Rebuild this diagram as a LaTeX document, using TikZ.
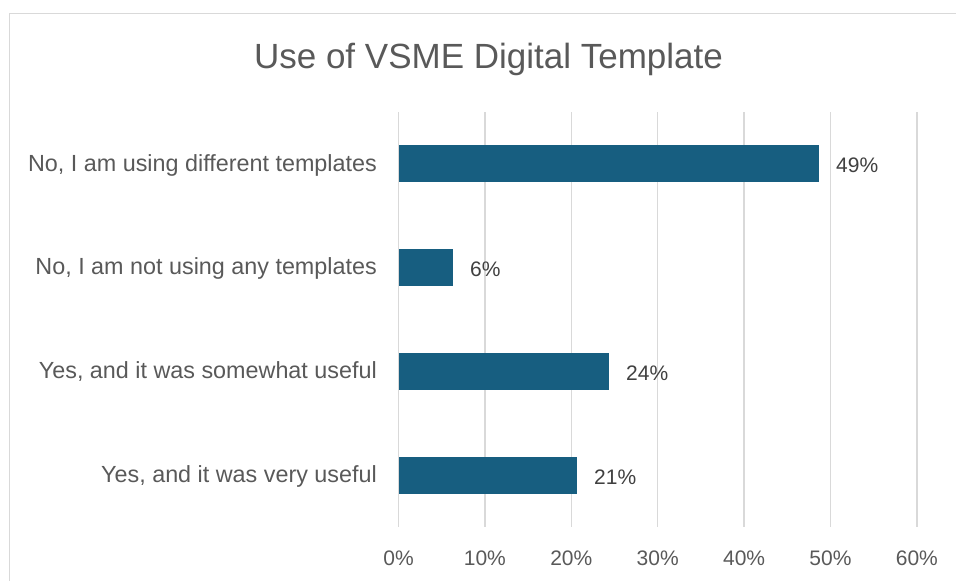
\documentclass[tikz,border=0pt]{standalone}
\usepackage{fontspec}
\setmainfont{Liberation Sans}
\definecolor{barblue}{RGB}{23,94,128}
\definecolor{gridgray}{RGB}{217,217,217}
\definecolor{textgray}{RGB}{89,89,89}
\definecolor{labelgray}{RGB}{64,64,64}
\begin{document}
\begin{tikzpicture}[x=1pt,y=-1pt,
  gridline/.style={draw=gridgray,line width=1.3pt},
  bar/.style={fill=barblue,draw=none},
  catlabel/.style={anchor=base east,inner sep=0pt,font=\fontsize{23.35}{27}\selectfont,text=textgray},
  vallabel/.style={anchor=base west,inner sep=0pt,font=\fontsize{21}{25}\selectfont,text=labelgray},
  ticklabel/.style={anchor=base,inner sep=0pt,font=\fontsize{21}{25}\selectfont,text=textgray},
  titlestyle/.style={anchor=base,inner sep=0pt,font=\fontsize{35}{42}\selectfont,text=textgray}]
  \useasboundingbox (0,0) rectangle (956,581);
  % chart frame (left and top edges)
  \draw[draw=gridgray,line width=1.2pt] (9.5,581) -- (9.5,13.5) -- (956,13.5);
  % title
  \node[titlestyle] (title) at (488.5,68) {Use of VSME Digital Template};
  % vertical gridlines and axis ticks, 10% apart
  \foreach \i/\t in {0/0\%,1/10\%,2/20\%,3/30\%,4/40\%,5/50\%,6/60\%}{
    \pgfmathsetmacro{\gx}{398.5+86.4*\i}
    \draw[gridline] (\gx,112) -- (\gx,527);
    \node[ticklabel] (tick\i) at (\gx,565) {\t};
  }
  % bars with their value labels
  \foreach \n/\yc/\xe/\v in {a/163.5/819/49\%,b/267/453/6\%,c/371/609/24\%,d/475/577/21\%}{
    \fill[bar] (399,\yc-18.5) rectangle (\xe,\yc+18.5);
    \node[vallabel] (val\n) at (\xe+17,\yc+9.2) {\v};
  }
  % category labels
  \node[catlabel] (cata) at (377,171) {No, I am using different templates};
  \node[catlabel] (catb) at (377,274.5) {No, I am not using any templates};
  \node[catlabel] (catc) at (377,378.5) {Yes, and it was somewhat useful};
  \node[catlabel] (catd) at (377,482.5) {Yes, and it was very useful};
\end{tikzpicture}
\end{document}
